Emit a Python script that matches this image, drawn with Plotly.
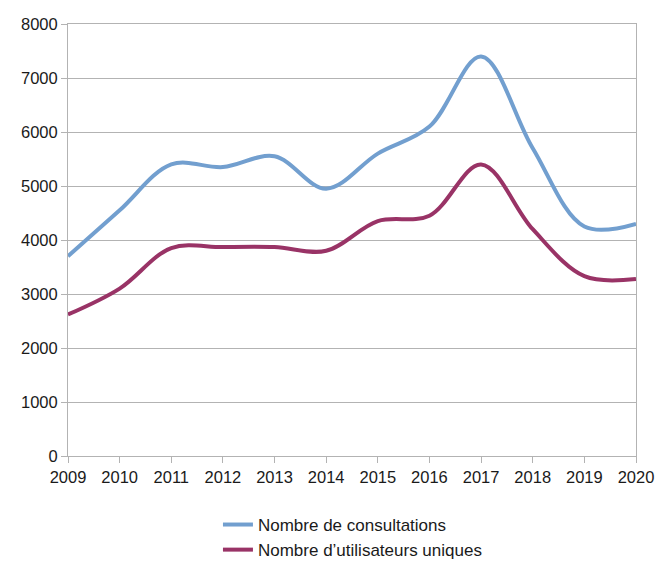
import plotly.graph_objects as go

# Yearly figures
years = [2009, 2010, 2011, 2012, 2013, 2014, 2015, 2016, 2017, 2018, 2019, 2020]
consultations = [3700, 4550, 5400, 5350, 5550, 4950, 5600, 6100, 7400, 5700, 4250, 4300]
utilisateurs_uniques = [2620, 3100, 3850, 3870, 3870, 3800, 4350, 4450, 5400, 4200, 3330, 3280]

y_ticks = [0, 1000, 2000, 3000, 4000, 5000, 6000, 7000, 8000]

FONT = "Liberation Sans, Arial, sans-serif"
GRID = "#b3b3b3"

fig = go.Figure()
fig.add_trace(go.Scatter(
    x=years, y=consultations, mode="lines",
    name="Nombre de consultations",
    line=dict(color="#729fcf", width=4, shape="spline", smoothing=1.0),
))
fig.add_trace(go.Scatter(
    x=years, y=utilisateurs_uniques, mode="lines",
    name="Nombre d\u2019utilisateurs uniques",
    line=dict(color="#993366", width=4, shape="spline", smoothing=1.0),
))

fig.update_layout(
    width=656, height=561,
    margin=dict(l=68, r=20, t=24, b=105, autoexpand=False),
    paper_bgcolor="white", plot_bgcolor="white",
    font=dict(family=FONT, size=16.5, color="#1a1a1a"),
    showlegend=True,
    legend=dict(
        x=0.264, xanchor="left", y=-0.118, yanchor="top",
        orientation="v", font=dict(size=17, color="#1a1a1a"),
        tracegroupgap=0, itemwidth=30, bgcolor="rgba(0,0,0,0)",
    ),
    xaxis=dict(
        range=[2009, 2020], tickmode="array", tickvals=years,
        ticktext=[str(y) for y in years], automargin=False,
        showgrid=False, zeroline=False,
        showline=True, linecolor=GRID, linewidth=1, mirror=True,
        ticks="outside", ticklen=6, tickcolor=GRID, tickwidth=1,
    ),
    yaxis=dict(
        range=[0, 8000], tickmode="array", tickvals=y_ticks,
        ticktext=[str(v) for v in y_ticks], automargin=False,
        showgrid=True, gridcolor=GRID, gridwidth=1, zeroline=False,
        showline=True, linecolor=GRID, linewidth=1, mirror=True,
        ticks="outside", ticklen=6, tickcolor=GRID, tickwidth=1,
    ),
)

fig.write_html("out.html")
